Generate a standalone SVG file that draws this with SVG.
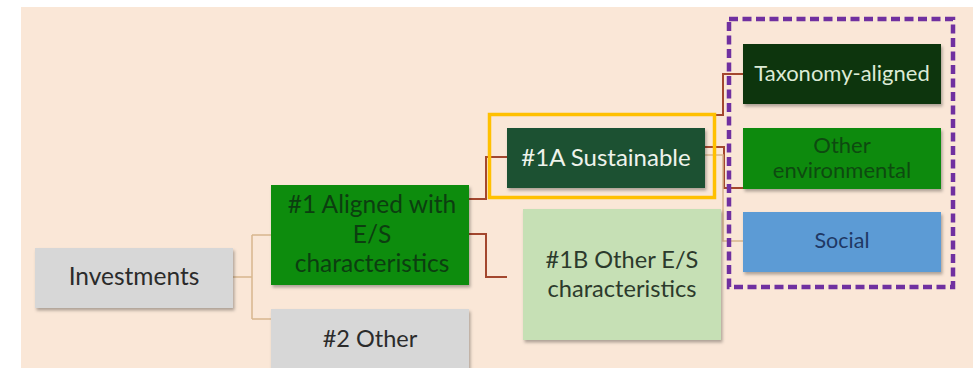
<svg xmlns="http://www.w3.org/2000/svg" width="973" height="368" viewBox="0 0 973 368">
  <defs>
    <filter id="sh" x="-10%" y="-10%" width="125%" height="135%">
      <feDropShadow dx="1.5" dy="2.5" stdDeviation="1.8" flood-color="#000" flood-opacity="0.3"/>
    </filter>
  </defs>
  <style>
    text { font-family: Lato, "Open Sans", "Liberation Sans", sans-serif; text-anchor: middle; }
    .box { filter: url(#sh); }
    .red { fill: none; stroke: #A3472E; stroke-width: 2; }
    .tan { fill: none; stroke: #D8B78E; stroke-width: 1.5; }
  </style>
  <rect x="0" y="0" width="973" height="368" fill="#FFFFFF"/>
  <rect x="21" y="7" width="952" height="361" fill="#FAE7D7"/>

  <g id="connectors">
    <path class="tan" d="M233 277 H252 M252 235 V319 M252 235 H271 M252 319 H271"/>
    <path class="red" d="M469 199 H486 V157 H507"/>
    <path class="red" d="M469 234 H486 V277 H507"/>
    <path class="red" d="M705 147 H724 V188 H743"/>
    <path class="red" d="M714 115 H723 V74 H743"/>
    <path class="tan" d="M705 155 H723 V241 H743"/>
  </g>

  <g id="investments">
    <rect class="box" x="35" y="248" width="198" height="60" fill="#D7D7D7"/>
    <text x="134" y="285" font-size="24.5" fill="#2B2B2B">Investments</text>
  </g>
  <g id="aligned">
    <rect class="box" x="271" y="185" width="198" height="100" fill="#0B8C0B"/>
    <text font-size="24.5" fill="#0C3E10"><tspan x="372" y="213">#1 Aligned with</tspan><tspan x="372" y="243">E/S</tspan><tspan x="372" y="272">characteristics</tspan></text>
  </g>
  <g id="other2">
    <rect class="box" x="271" y="309" width="198" height="70" fill="#D7D7D7"/>
    <text x="370" y="347" font-size="23.5" fill="#2B2B2B">#2 Other</text>
  </g>
  <g id="sustainable">
    <rect class="box" x="507" y="128" width="198" height="60" fill="#1E5131"/>
    <text x="606" y="166" font-size="24" fill="#EEF3EC">#1A Sustainable</text>
  </g>
  <g id="otherES">
    <rect class="box" x="523" y="209" width="198" height="131" fill="#C6E0B5"/>
    <text font-size="23.6" fill="#2C3A2C"><tspan x="622" y="268">#1B Other E/S</tspan><tspan x="622" y="297">characteristics</tspan></text>
  </g>
  <g id="highlight-sustainable">
    <rect x="489.5" y="114.5" width="225" height="83" fill="none" stroke="#FFC000" stroke-width="3.5"/>
  </g>
  <g id="taxonomy">
    <rect class="box" x="743" y="44" width="198" height="60" fill="#073607"/>
    <text x="842" y="81" font-size="22" fill="#DCEBD6">Taxonomy-aligned</text>
  </g>
  <g id="otherenv">
    <rect class="box" x="743" y="128" width="198" height="61" fill="#0B8A0B"/>
    <text font-size="22" fill="#0D4A10"><tspan x="842" y="153">Other</tspan><tspan x="842" y="178">environmental</tspan></text>
  </g>
  <g id="social">
    <rect class="box" x="743" y="212" width="198" height="60" fill="#5B9BD5"/>
    <text x="842" y="248" font-size="21.5" fill="#1F3864">Social</text>
  </g>
  <g id="group-environmental-social">
    <rect x="729" y="19" width="224" height="268" fill="none" stroke="#7030A0" stroke-width="4.5" stroke-dasharray="9 4.5"/>
  </g>
</svg>
